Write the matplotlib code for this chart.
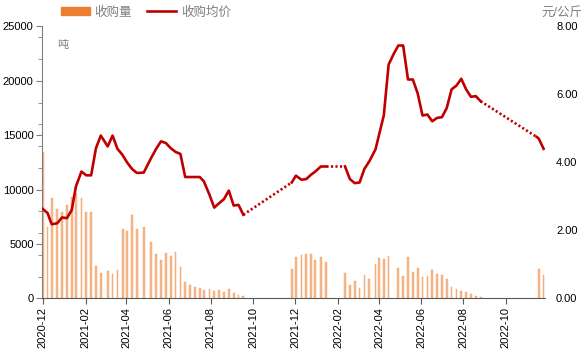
import matplotlib
matplotlib.use('Agg')
import matplotlib.pyplot as plt
import matplotlib.dates as mdates
from matplotlib.patches import Patch
from matplotlib.lines import Line2D
from matplotlib.ticker import MultipleLocator, FormatStrFormatter
import numpy as np
import pandas as pd

plt.rcParams['font.family'] = ['Liberation Sans', 'Noto Sans CJK SC']

# 收购量 (吨), weekly
vol_dates = ['2020-12-01', '2020-12-08', '2020-12-14', '2020-12-22', '2020-12-29',
             '2021-01-05', '2021-01-12', '2021-01-18', '2021-01-26', '2021-02-02',
             '2021-02-09', '2021-02-16', '2021-02-23', '2021-03-05', '2021-03-12',
             '2021-03-19', '2021-03-27', '2021-04-02', '2021-04-09', '2021-04-16',
             '2021-04-26', '2021-05-07', '2021-05-14', '2021-05-21', '2021-05-28',
             '2021-06-04', '2021-06-11', '2021-06-18', '2021-06-25', '2021-07-02',
             '2021-07-09', '2021-07-16', '2021-07-22', '2021-07-30', '2021-08-06',
             '2021-08-13', '2021-08-20', '2021-08-27', '2021-09-03', '2021-09-10',
             '2021-09-17', '2021-11-26', '2021-12-02', '2021-12-10', '2021-12-17',
             '2021-12-24', '2021-12-30', '2022-01-07', '2022-01-14', '2022-02-11',
             '2022-02-18', '2022-02-25', '2022-03-04', '2022-03-11', '2022-03-18',
             '2022-03-27', '2022-04-01', '2022-04-08', '2022-04-15', '2022-04-29',
             '2022-05-06', '2022-05-13', '2022-05-20', '2022-05-27', '2022-06-03',
             '2022-06-10', '2022-06-17', '2022-06-24', '2022-07-01', '2022-07-08',
             '2022-07-15', '2022-07-22', '2022-07-29', '2022-08-05', '2022-08-12',
             '2022-08-19', '2022-08-26', '2022-11-18', '2022-11-25']
vol_tons = [13450, 6575, 9200, 8250, 7950,
            8560, 9300, 9700, 9250, 7950,
            7950, 2970, 2290, 2500, 2200,
            2600, 6330, 6210, 7650, 6420,
            6575, 5140, 4040, 3520, 4190,
            3910, 4280, 2840, 1530, 1220,
            1010, 920, 765, 890, 700,
            735, 610, 890, 460, 275,
            215, 2690, 3820, 4000, 4070,
            4070, 3520, 3760, 3330, 2290,
            1200, 1560, 980, 2110, 1740,
            3180, 3670, 3580, 3880, 2750,
            2050, 3760, 2450, 2750, 1930,
            2050, 2570, 2230, 2110, 1740,
            1040, 860, 700, 580, 370,
            215, 150, 2690, 2140]

# 收购均价 (元/公斤)
price_dates = ['2020-12-01', '2020-12-08', '2020-12-14', '2020-12-22', '2020-12-29',
               '2021-01-05', '2021-01-12', '2021-01-18', '2021-01-26', '2021-02-02',
               '2021-02-09', '2021-02-16', '2021-02-23', '2021-03-05', '2021-03-12',
               '2021-03-19', '2021-03-26', '2021-04-02', '2021-04-09', '2021-04-16',
               '2021-04-26', '2021-05-07', '2021-05-14', '2021-05-21', '2021-05-28',
               '2021-06-04', '2021-06-11', '2021-06-18', '2021-06-25', '2021-07-02',
               '2021-07-09', '2021-07-16', '2021-07-22', '2021-07-30', '2021-08-06',
               '2021-08-13', '2021-08-20', '2021-08-27', '2021-09-03', '2021-09-10',
               '2021-09-17', '2021-11-26', '2021-12-02', '2021-12-10', '2021-12-17',
               '2021-12-24', '2021-12-30', '2022-01-07', '2022-01-14', '2022-02-11',
               '2022-02-18', '2022-02-25', '2022-03-04', '2022-03-11', '2022-03-18',
               '2022-03-27', '2022-04-01', '2022-04-08', '2022-04-15', '2022-04-22',
               '2022-04-29', '2022-05-06', '2022-05-13', '2022-05-20', '2022-05-27',
               '2022-06-03', '2022-06-10', '2022-06-17', '2022-06-24', '2022-07-01',
               '2022-07-08', '2022-07-15', '2022-07-22', '2022-07-29', '2022-08-05',
               '2022-08-12', '2022-08-19', '2022-08-26', '2022-11-15', '2022-11-18',
               '2022-11-25']
price_yuan = [2.63, 2.51, 2.18, 2.21, 2.38,
              2.36, 2.60, 3.29, 3.73, 3.62,
              3.62, 4.42, 4.79, 4.47, 4.79,
              4.40, 4.23, 4.00, 3.81, 3.69,
              3.70, 4.14, 4.40, 4.62, 4.57,
              4.42, 4.31, 4.25, 3.57, 3.57,
              3.57, 3.57, 3.44, 3.05, 2.67,
              2.80, 2.92, 3.17, 2.73, 2.75,
              2.46, 3.41, 3.61, 3.49, 3.51,
              3.64, 3.73, 3.88, 3.88, 3.88,
              3.51, 3.39, 3.41, 3.81, 4.03,
              4.38, 4.80, 5.38, 6.88, 7.18,
              7.44, 7.44, 6.44, 6.44, 6.03,
              5.38, 5.41, 5.21, 5.31, 5.33,
              5.60, 6.15, 6.26, 6.46, 6.15,
              5.93, 5.95, 5.80, 4.75, 4.70,
              4.40]

vol_dates = pd.to_datetime(vol_dates)
price = pd.Series(price_yuan, index=pd.to_datetime(price_dates))

orange = '#ED7D31'
red = '#C00000'
grey = '#7F7F7F'

fig = plt.figure(figsize=(5.85, 3.56), dpi=100)
ax = fig.add_axes([0.0718, 0.162, 0.8598, 0.7636])
ax2 = ax.twinx()

ax.bar(vol_dates, vol_tons, width=2.5, color='#F7BC94', edgecolor='#F29A5C',
       linewidth=0.3, zorder=1)

# solid where weekly data exists, dotted across the gaps
gaps = np.where(np.diff(price.index.values).astype('timedelta64[D]').astype(int) > 20)[0]
starts = np.r_[0, gaps + 1]
ends = np.r_[gaps + 1, len(price)]
for a, b in zip(starts, ends):
    ax2.plot(price.index[a:b], price.values[a:b], color=red, lw=1.9)
for i in gaps:
    ax2.plot(price.index[i:i + 2], price.values[i:i + 2], color=red, lw=1.9,
             linestyle=(0, (0.8, 0.9)))

ax.set_xlim(pd.Timestamp('2020-11-30'), pd.Timestamp('2022-11-27'))
ax.set_ylim(0, 25000)
ax2.set_ylim(0, 8)

ax.yaxis.set_major_locator(MultipleLocator(5000))
ax.yaxis.set_minor_locator(MultipleLocator(2000))
ax2.yaxis.set_major_locator(MultipleLocator(2))
ax2.yaxis.set_major_formatter(FormatStrFormatter('%.2f'))

ax.xaxis.set_major_locator(mdates.MonthLocator(bymonth=[2, 4, 6, 8, 10, 12]))
ax.xaxis.set_major_formatter(mdates.DateFormatter('%Y-%m'))
plt.setp(ax.get_xticklabels(), rotation=90)

ax.tick_params(axis='y', which='major', direction='out', length=4, color=grey,
               labelsize=8, pad=2)
ax.tick_params(axis='y', which='minor', direction='out', length=3, color=grey)
ax.tick_params(axis='x', direction='out', length=4, color='#595959', labelsize=8, pad=2)
ax2.tick_params(axis='y', length=0, labelsize=8, pad=8)

for s in ['top', 'right']:
    ax.spines[s].set_visible(False)
ax.spines['left'].set_color(grey)
ax.spines['bottom'].set_color('#595959')
for s in ax2.spines.values():
    s.set_visible(False)

handles = [Patch(color=orange), Line2D([], [], color=red, lw=1.9)]
fig.legend(handles, ['收购量', '收购均价'], loc='center left', bbox_to_anchor=(0.085, 0.965),
           ncol=2, frameon=False, fontsize=9, labelcolor=grey, handlelength=2.3,
           handleheight=0.6, columnspacing=1.2, handletextpad=0.4)

fig.text(0.098, 0.873, '吨', fontsize=8, color=grey, va='center')
fig.text(0.995, 0.965, '元/公斤', fontsize=9, color=grey, ha='right', va='center')

fig.savefig('out.png', dpi=100)
